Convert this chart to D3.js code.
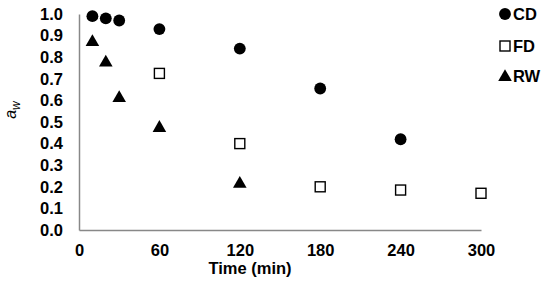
<!DOCTYPE html>
<html>
<head>
<meta charset="utf-8">
<script src="https://cdnjs.cloudflare.com/ajax/libs/d3/7.8.5/d3.min.js"></script>
<style>
  body { margin: 0; background: #fff; }
  text { font-family: "Liberation Sans", Arial, sans-serif; font-weight: bold; fill: #000; }
</style>
</head>
<body>
<svg id="chart" width="550" height="286"></svg>
<script>
var xTicks = [0, 60, 120, 180, 240, 300];
var yTicks = [0, 0.1, 0.2, 0.3, 0.4, 0.5, 0.6, 0.7, 0.8, 0.9, 1.0];

var cdTime = [10, 20, 30, 60, 120, 180, 240];
var cdAw   = [0.99, 0.98, 0.97, 0.93, 0.84, 0.655, 0.42];

var fdTime = [60, 120, 180, 240, 300];
var fdAw   = [0.725, 0.40, 0.20, 0.185, 0.17];

var rwTime = [10, 20, 30, 60, 120];
var rwAw   = [0.875, 0.78, 0.615, 0.477, 0.218];

var svg = d3.select('#chart');
var x = d3.scaleLinear().domain([0, 300]).range([79, 481]);
var y = d3.scaleLinear().domain([0, 1]).range([230, 14]);

// axes
var xAxis = svg.append('g').attr('transform', 'translate(0,230)')
    .call(d3.axisBottom(x).tickValues(xTicks).tickSize(0).tickPadding(14));
var yAxis = svg.append('g').attr('transform', 'translate(79,0)')
    .call(d3.axisLeft(y).tickValues(yTicks).tickSize(0).tickPadding(16).tickFormat(d3.format('.1f')));
[xAxis, yAxis].forEach(function (a) {
    a.select('.domain').attr('stroke', '#888').attr('stroke-width', 1.5);
    a.selectAll('text').style('font-size', '16.5px').style('font-family', '"Liberation Sans", Arial, sans-serif')
        .style('font-weight', 'bold').attr('fill', '#000');
});

svg.append('text').attr('x', 250).attr('y', 274).attr('text-anchor', 'middle')
    .style('font-size', '16.5px').text('Time (min)');
var aw = svg.append('text').attr('transform', 'translate(16,110) rotate(-90)')
    .attr('text-anchor', 'middle').style('font-size', '16px').style('font-weight', 'normal');
aw.append('tspan').style('font-style', 'italic').style('font-weight', 'normal').text('a');
aw.append('tspan').attr('dy', 4).style('font-size', '12px').style('font-style', 'italic').style('font-weight', 'normal').text('w');

var circleSym = d3.symbol().type(d3.symbolCircle).size(110);
var triSym = d3.symbol().type(d3.symbolTriangle).size(80);

function pts(t, v) { return t.map(function (d, i) { return [d, v[i]]; }); }

svg.selectAll('.cd').data(pts(cdTime, cdAw)).enter().append('path')
    .attr('d', circleSym)
    .attr('transform', function (d) { return 'translate(' + x(d[0]) + ',' + y(d[1]) + ')'; })
    .attr('fill', '#000');

svg.selectAll('.fd').data(pts(fdTime, fdAw)).enter().append('rect')
    .attr('x', function (d) { return x(d[0]) - 5; })
    .attr('y', function (d) { return y(d[1]) - 5; })
    .attr('width', 10).attr('height', 10)
    .attr('fill', '#fff').attr('stroke', '#000').attr('stroke-width', 1.4);

svg.selectAll('.rw').data(pts(rwTime, rwAw)).enter().append('path')
    .attr('d', triSym)
    .attr('transform', function (d) { return 'translate(' + x(d[0]) + ',' + (y(d[1]) + 1) + ')'; })
    .attr('fill', '#000');

// legend
var legend = svg.append('g');
legend.append('path').attr('d', circleSym).attr('transform', 'translate(505,14)').attr('fill', '#000');
legend.append('rect').attr('x', 500).attr('y', 41).attr('width', 10).attr('height', 10)
    .attr('fill', '#fff').attr('stroke', '#000').attr('stroke-width', 1.4);
legend.append('path').attr('d', triSym).attr('transform', 'translate(505,77)').attr('fill', '#000');
[['CD', 14], ['FD', 46], ['RW', 76]].forEach(function (l) {
    legend.append('text').attr('x', 513).attr('y', l[1]).attr('dy', '0.35em')
        .style('font-size', '16.5px').text(l[0]);
});
</script>
</body>
</html>
